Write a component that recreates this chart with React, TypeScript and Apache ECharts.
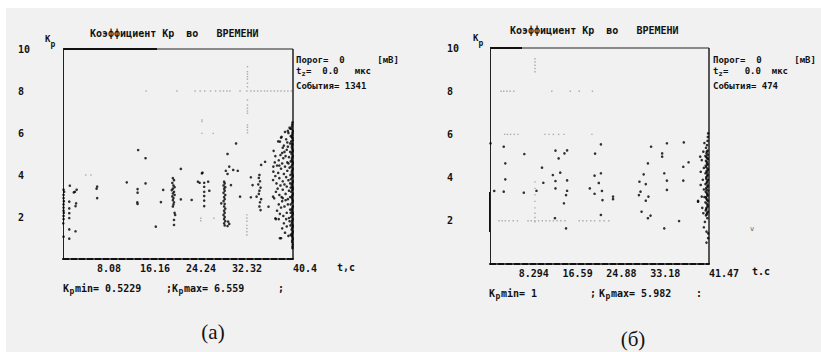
import React, { useEffect, useRef } from 'react';
import * as echarts from 'echarts';

// ---- data ----
const aTicks = ['8.08', '16.16', '24.24', '32.32', '40.4'];
const bTicks = ['8.294', '16.59', '24.88', '33.18', '41.47'];
const yTicks = ['2', '4', '6', '8', '10'];

// (a) events: [t, Kp]
const aPoints = [
  [0.1, 3.3], [0.2, 3.2], [0.1, 3.05], [0.1, 2.9], [0.15, 2.75], [0.1, 2.6], [0.1, 2.45], [0.1, 2.3], [0.15, 2.2],
  [0.1, 2.05], [0.1, 1.9], [0.05, 1.7], [0.1, 1.06],
  [1.2, 3.49], [1.1, 2.73], [1.1, 2.41], [1.1, 2.18], [1.1, 1.95], [1.1, 1.41], [1.1, 0.97],
  [2.4, 3.3], [2.1, 3.2], [1.9, 3.17], [2.3, 2.65], [2.2, 2.52], [2.2, 1.32],
  [6.0, 3.45], [5.9, 3.35], [6.0, 2.9],
  [11.2, 3.65], [13.2, 5.19], [14.5, 4.8], [14.5, 3.6], [13.1, 3.33], [13.1, 3.16], [13.05, 2.7], [13.1, 2.62],
  [16.3, 1.54], [17.2, 2.71], [17.6, 3.29], [20.7, 4.29], [20.7, 2.84], [22.6, 2.81],
  [19.3, 3.85], [19.5, 3.75], [19.2, 3.62], [19.4, 3.5], [19.6, 3.42], [19.3, 3.35], [19.1, 3.28], [19.5, 3.2],
  [19.3, 3.12], [19.6, 3.05], [19.2, 2.98], [19.4, 2.9], [19.3, 2.8], [19.5, 2.7], [19.4, 2.6], [19.3, 2.5],
  [19.6, 2.2], [19.7, 2.1], [19.5, 1.86], [19.5, 1.62],
  [24.4, 4.08], [24.5, 4.11], [23.7, 3.68], [24.0, 3.63], [24.8, 3.63], [24.8, 3.44], [24.8, 3.2], [24.8, 3.0],
  [24.8, 2.78], [24.8, 2.52], [25.5, 3.68], [25.7, 3.25],
  [28.3, 3.68], [28.4, 3.6], [28.2, 3.5], [28.5, 3.42], [28.3, 3.35], [28.4, 3.25], [28.2, 3.15], [28.5, 3.05],
  [28.3, 2.95], [28.4, 2.85], [28.2, 2.75], [28.4, 2.62], [28.3, 2.5], [28.5, 2.4], [28.3, 2.3], [28.4, 2.2],
  [28.2, 2.1], [28.4, 2.0], [28.3, 1.9], [28.5, 1.8], [28.3, 1.7], [28.4, 1.6],
  [29.0, 1.78], [29.2, 1.67], [28.9, 1.57], [27.8, 2.65],
  [30.4, 5.5], [28.9, 5.0], [28.6, 4.2], [29.2, 4.4], [29.9, 4.24], [30.7, 4.2], [29.5, 3.52], [28.9, 4.05], [31.1, 2.97],
  [33.0, 3.89], [33.3, 3.52], [33.0, 2.94], [34.0, 2.97], [34.5, 4.0], [35.5, 4.63], [34.8, 4.48],
  [34.4, 3.86], [34.6, 3.7], [34.3, 3.55], [34.7, 3.4], [34.5, 3.25], [34.4, 3.1], [34.8, 2.85], [34.6, 2.7],
  [34.5, 2.5], [34.7, 2.33], [36.1, 2.49], [36.9, 2.97], [37.4, 1.9], [37.9, 1.9],
  [37.0, 5.15], [37.3, 4.9], [37.8, 5.6], [38.1, 5.59], [38.3, 5.78], [38.4, 5.82], [39.5, 5.35], [38.8, 5.4],
  [39.2, 5.7], [39.6, 6.0], [39.8, 6.25],
  [36.95, 4.4], [36.95, 4.16], [37.2, 4.6], [37.6, 4.45], [37.9, 4.7], [38.2, 4.95], [38.5, 5.05], [38.7, 4.8],
  [38.9, 5.1], [39.1, 4.9], [39.3, 5.2], [39.4, 4.6], [39.7, 4.85], [39.9, 5.5],
  [36.9, 3.76], [37.3, 3.95], [37.5, 3.6], [37.8, 4.1], [38.0, 3.85], [38.3, 4.3], [38.6, 3.7], [38.8, 4.05],
  [39.0, 4.4], [39.2, 3.9], [39.4, 4.2], [39.6, 3.75], [39.8, 4.35],
  [37.1, 2.89], [37.4, 3.2], [37.7, 3.35], [38.0, 3.05], [38.2, 3.5], [38.4, 2.95], [38.6, 3.3], [38.9, 3.55],
  [39.1, 3.1], [39.3, 3.45], [39.5, 2.85], [39.7, 3.25], [39.9, 3.6],
  [37.3, 1.94], [37.6, 2.3], [37.9, 2.6], [38.1, 2.15], [38.3, 2.45], [38.5, 2.75], [38.7, 2.05], [38.9, 2.5],
  [39.1, 2.8], [39.3, 2.2], [39.5, 2.6], [39.7, 1.95], [39.9, 2.35],
  [38.1, 0.99], [38.3, 0.99], [38.5, 1.46], [38.8, 1.7], [39.0, 1.25], [39.3, 1.55], [39.6, 1.1], [39.8, 1.8],
  [40.3, 6.5], [40.2, 6.3], [40.35, 6.1], [40.25, 5.9], [40.3, 5.75], [40.1, 5.6], [40.3, 5.45], [40.2, 5.3],
  [40.35, 5.15], [40.15, 5.0], [40.3, 4.85], [40.2, 4.7], [40.35, 4.55], [40.1, 4.4], [40.3, 4.25], [40.2, 4.1],
  [40.35, 3.95], [40.05, 3.8], [40.3, 3.65], [40.2, 3.5], [40.35, 3.35], [40.1, 3.2], [40.3, 3.05], [40.2, 2.9],
  [40.35, 2.75], [40.0, 2.6], [40.3, 2.45], [40.2, 2.3], [40.35, 2.15], [40.1, 2.0], [40.3, 1.85], [40.2, 1.7],
  [40.35, 1.55], [40.15, 1.4], [40.3, 1.25], [40.2, 1.1], [40.35, 0.95], [40.25, 0.8], [40.3, 0.6], [40.3, 0.52],
  [40.25, 6.4], [40.15, 6.2], [40.3, 6.0], [40.2, 5.8], [40.35, 5.65], [40.25, 5.5], [40.2, 5.38], [40.3, 5.22],
  [40.25, 5.08], [40.35, 4.92], [40.2, 4.78], [40.3, 4.62], [40.25, 4.48], [40.35, 4.32], [40.2, 4.18], [40.3, 4.02],
  [40.25, 3.88], [40.35, 3.72], [40.2, 3.58], [40.3, 3.42], [40.25, 3.28], [40.35, 3.12], [40.2, 2.98], [40.3, 2.82],
  [40.25, 2.68], [40.35, 2.52], [40.2, 2.38], [40.3, 2.22], [40.25, 2.08], [40.35, 1.92], [40.2, 1.78], [40.3, 1.62],
  [40.25, 1.48], [40.35, 1.32], [40.2, 1.18], [40.3, 1.02], [40.25, 0.88], [40.35, 0.7],
  [39.95, 6.2], [40.0, 5.85], [39.9, 5.1], [40.0, 4.65], [39.95, 4.0], [40.0, 3.4], [39.9, 2.95], [40.0, 2.2],
  [39.95, 1.6], [40.0, 1.15],
  [39.5, 6.1], [39.4, 5.55], [38.6, 5.3], [39.0, 6.05], [38.5, 4.55], [38.0, 4.45], [39.2, 1.9], [38.6, 2.9], [39.6, 4.55],
];

// (a) faint grey marks
const aFaint = [
  [14.6, 8.0], [20.0, 8.0], [23.2, 8.0], [24.1, 8.0], [24.9, 8.0], [25.9, 8.0], [26.8, 8.0], [27.6, 8.0],
  [28.2, 8.0], [28.8, 8.0], [29.3, 8.0], [31.1, 8.0], [32.3, 8.0], [33.0, 8.0], [33.6, 8.0], [34.2, 8.0],
  [34.8, 8.0], [35.4, 8.0], [35.9, 8.0], [36.5, 8.0], [37.1, 8.0], [37.7, 8.0], [38.3, 8.0], [38.9, 8.0],
  [39.5, 8.0], [40.1, 8.0],
  [32.4, 9.16], [32.4, 8.92], [32.4, 8.8], [32.4, 8.68], [32.4, 8.56], [32.4, 8.37], [32.4, 8.2], [32.4, 7.57],
  [32.4, 7.33], [32.4, 7.18], [32.4, 7.05], [32.4, 6.94], [32.4, 6.38], [32.4, 6.27], [32.4, 6.14], [32.4, 6.01],
  [24.4, 6.62], [24.4, 6.54], [24.4, 5.98], [26.4, 5.98],
  [32.3, 2.1], [32.3, 1.95], [32.3, 1.8], [32.3, 1.6], [32.3, 1.45], [32.3, 1.3], [32.3, 1.14],
  [4.0, 4.0], [4.9, 4.0], [24.2, 1.94], [24.2, 1.82], [26.5, 1.94],
];

// (б) events: [t, Kp]
const bPoints = [
  [2.6, 5.43], [6.5, 5.09], [2.9, 4.66], [2.9, 3.92], [0.8, 3.38], [2.6, 3.35], [6.4, 3.3], [12.4, 5.25],
  [14.1, 5.12], [14.6, 5.26], [13.0, 4.89], [9.85, 4.46], [11.9, 4.12], [13.3, 4.23], [10.1, 3.76], [12.4, 3.84],
  [14.6, 3.87], [8.8, 3.39], [12.4, 3.5], [14.6, 3.39], [14.4, 3.19], [14.0, 2.81], [12.3, 2.12], [14.4, 1.65],
  [21.0, 5.54], [19.9, 5.11], [19.8, 4.09], [21.0, 4.2], [20.6, 3.75], [18.9, 3.5], [19.8, 3.25], [21.0, 2.27],
  [0.1, 5.59], [21.2, 3.38], [21.3, 2.96], [23.3, 3.12], [23.3, 3.0],
  [30.5, 5.43], [33.5, 5.59], [36.7, 5.63], [32.6, 5.12], [32.6, 4.97], [29.9, 4.66], [36.6, 4.5], [37.6, 4.71],
  [29.1, 4.15], [33.0, 4.2], [28.3, 3.81], [29.5, 3.7], [33.5, 3.86], [36.6, 3.86], [28.5, 3.35], [28.2, 3.19],
  [30.0, 3.12], [29.5, 2.93], [33.5, 3.43], [28.7, 2.42], [30.4, 2.24], [29.9, 2.12], [35.8, 1.99], [33.0, 1.65],
  [39.4, 2.88], [40.1, 3.12],
  [41.3, 6.05], [41.25, 5.88], [41.2, 5.7], [41.1, 5.5], [40.9, 5.38], [41.2, 5.25], [41.0, 5.12], [40.8, 5.0],
  [41.15, 4.9], [40.9, 4.78], [41.1, 4.65], [40.85, 4.55], [41.2, 4.42], [41.0, 4.3], [40.8, 4.2], [41.15, 4.08],
  [40.95, 3.95], [41.1, 3.82], [40.8, 3.7], [41.2, 3.58], [41.0, 3.45], [40.85, 3.35], [41.15, 3.22], [40.9, 3.1],
  [41.1, 2.98], [40.8, 2.85], [41.2, 2.72], [41.0, 2.6], [40.85, 2.48], [41.1, 2.36], [40.9, 2.25], [41.15, 2.12],
  [41.05, 5.2], [41.2, 5.05], [40.95, 4.95], [41.25, 4.85], [41.05, 4.72], [41.2, 4.6], [40.95, 4.48], [41.25, 4.36],
  [41.05, 4.24], [41.2, 4.14], [40.95, 4.02], [41.25, 3.9], [41.05, 3.76], [41.2, 3.64], [40.95, 3.52], [41.25, 3.4],
  [41.05, 3.28], [41.2, 3.16], [40.95, 3.04], [41.25, 2.92], [41.05, 2.8], [41.2, 2.66], [40.95, 2.54], [41.25, 2.42],
  [41.05, 2.3],
  [39.8, 4.97], [40.1, 4.81], [39.9, 4.27], [39.9, 3.66], [39.4, 2.92], [40.4, 2.35], [40.5, 1.7], [41.0, 1.5],
  [41.3, 1.42], [41.0, 0.99], [40.4, 5.2], [40.5, 4.45], [40.3, 3.9], [40.6, 3.1], [40.2, 2.6], [40.6, 5.6],
  [40.5, 3.45], [40.7, 1.95], [41.3, 1.2],
];

// (б) faint grey marks
const bFaint = [
  [8.52, 9.5], [8.52, 9.35], [8.52, 9.2], [8.52, 9.05], [8.52, 8.9],
  [2.1, 8.0], [2.6, 8.0], [3.2, 8.0], [3.8, 8.0], [4.5, 8.0], [11.7, 8.0], [15.2, 8.0], [16.9, 8.0], [19.4, 8.0],
  [2.8, 6.0], [3.3, 6.0], [3.9, 6.0], [4.6, 6.0], [5.3, 6.0], [10.4, 6.0], [11.2, 6.0], [12.0, 6.0], [13.0, 6.0],
  [14.0, 6.0], [19.3, 6.0],
  [1.7, 2.0], [2.3, 2.0], [2.9, 2.0], [3.6, 2.0], [4.4, 2.0], [5.2, 2.0], [7.2, 2.0], [7.8, 2.0], [8.5, 2.0],
  [9.2, 2.0], [9.9, 2.0], [10.6, 2.0], [11.3, 2.0], [12.0, 2.0], [12.7, 2.0], [13.4, 2.0], [14.2, 2.0],
  [16.9, 2.0], [17.6, 2.0], [18.3, 2.0], [19.1, 2.0], [19.8, 2.0], [20.8, 2.0], [21.6, 2.0], [22.5, 2.0],
  [8.52, 3.8], [8.52, 3.5], [8.52, 3.2], [8.52, 2.9], [8.52, 2.6], [8.52, 2.35], [8.52, 2.15], [8.52, 1.95],
];

const MONO = 'DejaVu Sans Mono';
const INK = '#111111';

function T(x: number, y: number, text: string, size = 10, extra: any = {}) {
  return {
    type: 'text',
    x,
    y,
    silent: true,
    style: {
      text,
      fontFamily: MONO,
      fontSize: size,
      fontWeight: 'bold',
      fill: INK,
      align: 'left',
      verticalAlign: 'middle',
      ...extra,
    },
  };
}

function L(x1: number, y1: number, x2: number, y2: number, w = 1, color = '#222') {
  return { type: 'line', silent: true, shape: { x1, y1, x2, y2 }, style: { stroke: color, lineWidth: w } };
}

function makeX(gridIndex: number, max: number, ticks: string[]) {
  const interval = max / ticks.length;
  return {
    type: 'value',
    gridIndex,
    min: 0,
    max,
    interval,
    splitLine: { show: false },
    axisTick: { show: false },
    axisLine: { show: true, lineStyle: { color: '#111', width: 2, type: [6, 2] } },
    axisLabel: {
      show: true,
      margin: 4,
      fontFamily: MONO,
      fontSize: 10,
      fontWeight: 'bold',
      color: INK,
      showMinLabel: false,
      showMaxLabel: true,
      alignMaxLabel: 'left',
      formatter: (v: number) => {
        const i = Math.round(v / interval) - 1;
        return i >= 0 && i < ticks.length ? ticks[i] : '';
      },
    },
  };
}

function makeY(gridIndex: number, margin: number) {
  return {
    type: 'value',
    gridIndex,
    min: 0,
    max: 10,
    interval: 2,
    splitLine: { show: false },
    axisTick: { show: false },
    axisLine: { show: true, lineStyle: { color: '#222', width: 1 } },
    axisLabel: {
      show: true,
      margin,
      align: 'left',
      fontFamily: MONO,
      fontSize: 10,
      fontWeight: 'bold',
      color: INK,
      showMinLabel: false,
      formatter: (v: number) => {
        const i = Math.round(v / 2) - 1;
        return i >= 0 && i < yTicks.length ? yTicks[i] : '';
      },
    },
  };
}

export default function App() {
  const ref = useRef<HTMLDivElement>(null);
  useEffect(() => {
    if (!ref.current) return;
    const chart = echarts.init(ref.current, undefined, { renderer: 'svg' });
    const graphic: any[] = [
      { type: 'rect', silent: true, z: -10, shape: { x: 6, y: 8, width: 815, height: 344 }, style: { fill: '#f1f1f1' } },
      // (a) frame pieces
      L(63, 49, 293, 49, 1),
      L(63, 49, 157, 49, 2, '#111'),
      L(293, 49, 293, 259, 1.5),
      // (б) frame pieces
      L(490, 48, 709, 48, 1),
      L(490, 48, 522, 48, 2, '#111'),
      L(709, 48, 709, 264, 1.5),
      L(490, 192, 490, 232, 2, '#111'),
      // (a) texts
      T(90, 33, 'Коэффициент Кр  во   ВРЕМЕНИ'),
      T(45, 39, 'K', 9),
      T(50.5, 44, 'p', 8),
      T(296, 60, 'Порог=  0      [мВ]', 9),
      T(296, 71, 't', 9),
      T(301.5, 74, 'z', 7),
      T(306, 71, '=  0.0   мкс', 9),
      T(296, 86, 'События= 1341', 9),
      T(337, 267, 't,c'),
      T(63, 288, 'K'),
      T(69.5, 291, 'p', 8),
      T(75, 288, 'min= 0.5229'),
      T(166, 288, ';'),
      T(172, 288, 'K'),
      T(178.5, 291, 'p', 8),
      T(184, 288, 'max= 6.559'),
      T(278, 288, ';'),
      T(213, 332, '(a)', 21, { fontFamily: 'Liberation Serif', fontWeight: 'normal', align: 'center' }),
      // (б) texts
      T(510, 30, 'Коэффициент Кр  во   ВРЕМЕНИ'),
      T(473, 38, 'K', 9),
      T(478.5, 43, 'p', 8),
      T(713, 60, 'Порог=  0      [мВ]', 9),
      T(713, 71, 't', 9),
      T(718.5, 74, 'z', 7),
      T(723, 71, '=   0.0  мкс', 9),
      T(713, 86, 'События= 474', 9),
      T(752, 271, 't.c'),
      T(489, 293, 'K'),
      T(495.5, 296, 'p', 8),
      T(501, 293, 'min= 1'),
      T(590, 293, ';'),
      T(599, 293, 'K'),
      T(605.5, 296, 'p', 8),
      T(611, 293, 'max= 5.982'),
      T(696, 293, ':'),
      T(633, 339, '(б)', 21, { fontFamily: 'Liberation Serif', fontWeight: 'normal', align: 'center' }),
      T(750, 229, 'v', 7, { fill: '#555', fontWeight: 'normal' }),
    ];
    chart.setOption({
      animation: false,
      backgroundColor: '#ffffff',
      grid: [
        { left: 63, top: 49, width: 230, height: 210 },
        { left: 490, top: 48, width: 219, height: 216 },
      ],
      xAxis: [makeX(0, 40.4, aTicks), makeX(1, 41.47, bTicks)],
      yAxis: [makeY(0, 45), makeY(1, 43)],
      series: [
        {
          type: 'scatter', xAxisIndex: 0, yAxisIndex: 0, data: aFaint, symbol: 'rect', symbolSize: 1.4,
          itemStyle: { color: '#9a9a9a' }, silent: true,
        },
        {
          type: 'scatter', xAxisIndex: 0, yAxisIndex: 0, data: aPoints, symbol: 'circle', symbolSize: 2.6,
          itemStyle: { color: '#000' }, silent: true,
        },
        {
          type: 'scatter', xAxisIndex: 1, yAxisIndex: 1, data: bFaint, symbol: 'rect', symbolSize: 1.4,
          itemStyle: { color: '#9a9a9a' }, silent: true,
        },
        {
          type: 'scatter', xAxisIndex: 1, yAxisIndex: 1, data: bPoints, symbol: 'circle', symbolSize: 2.6,
          itemStyle: { color: '#000' }, silent: true,
        },
      ],
      graphic,
    });
    return () => chart.dispose();
  }, []);
  return (
    <div
      ref={ref}
      style={{ position: 'absolute', left: 0, top: 0, width: 821, height: 352 }}
    />
  );
}
